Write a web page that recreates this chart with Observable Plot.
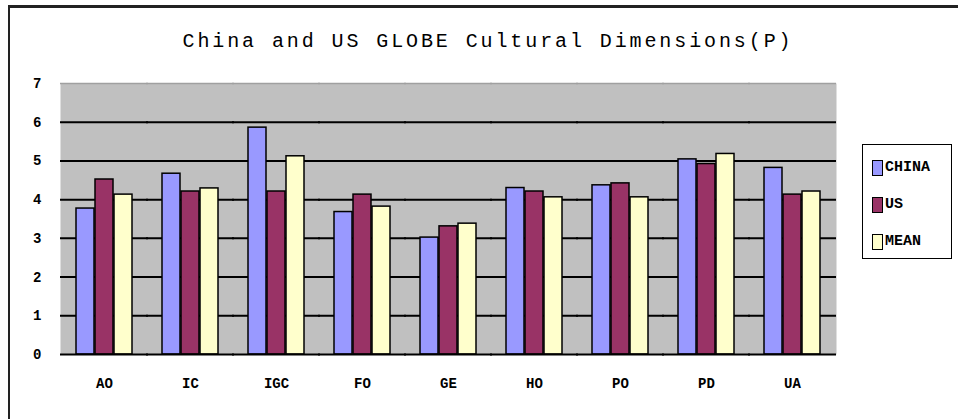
<!DOCTYPE html>
<html><head><meta charset="utf-8">
<script src="https://cdn.jsdelivr.net/npm/d3@7"></script>
<script src="https://cdn.jsdelivr.net/npm/@observablehq/plot@0.6"></script>
<style>
body{margin:0;background:#fff;}
#wrap{position:relative;width:958px;height:419px;overflow:hidden;background:#fff;}
#frame{position:absolute;left:8px;top:5px;width:980px;height:440px;border-top:3px solid #222;border-left:2px solid #222;}
#title{position:absolute;left:0;width:976px;top:30px;text-align:center;font:20px "Liberation Mono",monospace;letter-spacing:2.9px;color:#000;}
#chart{position:absolute;left:0;top:0;}
#legend{position:absolute;left:862px;top:144px;width:88px;height:113px;border:1.5px solid #000;background:#fff;font:bold 15px "Liberation Mono",monospace;}
.row{position:absolute;left:9px;display:flex;align-items:center;}
.sw{display:inline-block;width:9px;height:14px;border:1px solid #000;margin-right:2px;}
</style></head>
<body>
<div id="wrap">
  <div id="frame"></div>
  <div id="title">China and US GLOBE Cultural Dimensions(P)</div>
  <div id="chart"></div>
  <div id="legend"></div>
</div>
<script>
const categories = ["AO","IC","IGC","FO","GE","HO","PO","PD","UA"];
const seriesNames = ["CHINA","US","MEAN"];
const chinaValues = [3.77,4.67,5.86,3.68,3.02,4.30,4.37,5.04,4.82];
const usValues    = [4.52,4.21,4.21,4.13,3.31,4.21,4.42,4.92,4.13];
const meanValues  = [4.13,4.29,5.12,3.82,3.38,4.06,4.06,5.18,4.21];
const yTicks = [0,1,2,3,4,5,6,7];
const seriesColors = ["#9999ff","#993366","#ffffcc"];

const seriesValues = [chinaValues, usValues, meanValues];
const table = [];
categories.forEach((c, i) => {
  seriesNames.forEach((s, j) => table.push({category: c, series: s, value: seriesValues[j][i]}));
});

const chart = Plot.plot({
  width: 958,
  height: 419,
  marginTop: 83,
  marginBottom: 65,
  marginLeft: 57,
  marginRight: 119,
  style: {background: "transparent", fontFamily: "'Liberation Mono', monospace", fontSize: "14px", fontWeight: "bold", color: "#000"},
  facet: {data: table, x: "category"},
  fx: {domain: categories, padding: 0, label: null, tickSize: 0, tickPadding: 24},
  x: {domain: seriesNames, paddingInner: 0.05, paddingOuter: 0.7, axis: null},
  y: {domain: [0, 7], ticks: yTicks, tickFormat: "d", label: null, tickSize: 0, tickPadding: 20},
  color: {domain: seriesNames, range: seriesColors},
  marks: [
    Plot.frame({fill: "#c0c0c0", stroke: null, insetLeft: -1, insetRight: -1}),
    Plot.ruleY([7], {stroke: "#a0a0a0", strokeWidth: 1.5, insetLeft: -1, insetRight: -1}),
    Plot.ruleY(yTicks.filter(t => t > 0 && t < 7), {stroke: "#000", strokeWidth: 2, insetLeft: -1, insetRight: -1}),
    Plot.barY(table, {x: "series", y: "value", fill: "series", stroke: "#000", strokeWidth: 1.5}),
    Plot.ruleY([0], {stroke: "#000", strokeWidth: 2, insetLeft: -1, insetRight: -1})
  ]
});
document.getElementById("chart").appendChild(chart);

const legend = document.getElementById("legend");
const rowTops = [14, 51, 88];
seriesNames.forEach((s, i) => {
  const row = document.createElement("div");
  row.className = "row";
  row.style.top = rowTops[i] + "px";
  const sw = document.createElement("span");
  sw.className = "sw";
  sw.style.background = seriesColors[i];
  row.appendChild(sw);
  row.appendChild(document.createTextNode(s));
  legend.appendChild(row);
});
</script>
</body></html>
